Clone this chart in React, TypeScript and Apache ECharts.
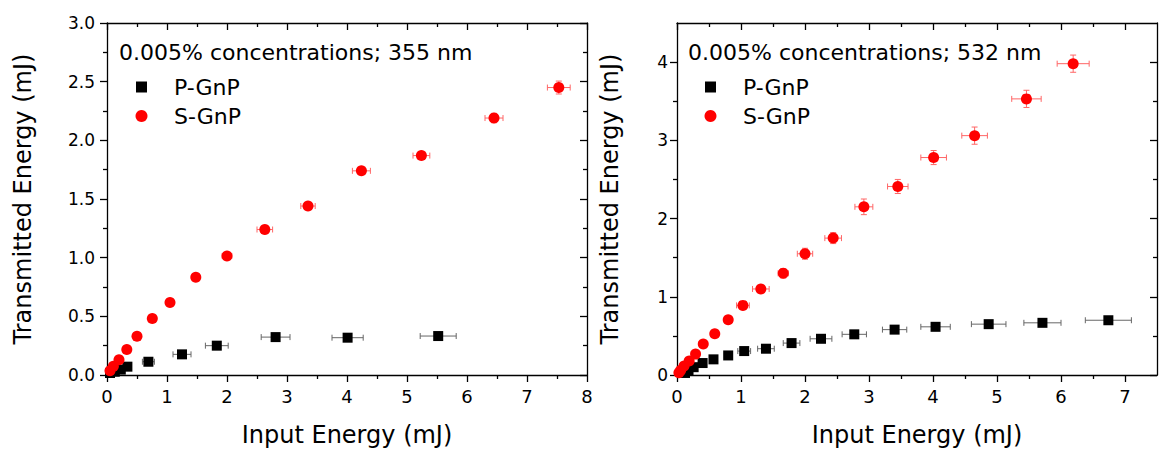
import React, { useEffect, useRef } from "react";
import * as echarts from "echarts";

// ---------- data ----------
const leftTitle = "0.005% concentrations; 355 nm";
const rightTitle = "0.005% concentrations; 532 nm";
const seriesNames = ["P-GnP", "S-GnP"];

// 355 nm, P-GnP
const l355PX = [0.05, 0.13, 0.23, 0.34, 0.69, 1.25, 1.83, 2.81, 4.01, 5.52];
const l355PY = [0.017, 0.028, 0.046, 0.071, 0.113, 0.176, 0.25, 0.323, 0.318, 0.332];
const l355PXE = [0.01, 0.02, 0.03, 0.04, 0.1, 0.15, 0.19, 0.24, 0.26, 0.3];
const l355PYE = [0.005, 0.005, 0.005, 0.005, 0.008, 0.01, 0.01, 0.012, 0.012, 0.012];
// 355 nm, S-GnP
const l355SX = [0.05, 0.106, 0.2, 0.33, 0.5, 0.755, 1.05, 1.48, 2.0, 2.63, 3.35, 4.24, 5.24, 6.45, 7.53];
const l355SY = [0.037, 0.074, 0.13, 0.218, 0.331, 0.482, 0.618, 0.834, 1.015, 1.24, 1.44, 1.74, 1.87, 2.19, 2.45];
const l355SXE = [0.01, 0.01, 0.02, 0.02, 0.03, 0.04, 0.05, 0.06, 0.08, 0.13, 0.12, 0.15, 0.14, 0.15, 0.19];
const l355SYE = [0.005, 0.005, 0.005, 0.008, 0.01, 0.01, 0.01, 0.012, 0.015, 0.035, 0.02, 0.02, 0.02, 0.04, 0.055];

// 532 nm, P-GnP
const r532PX = [0.125, 0.18, 0.26, 0.4, 0.57, 0.8, 1.05, 1.39, 1.79, 2.25, 2.77, 3.4, 4.04, 4.87, 5.71, 6.74];
const r532PY = [0.026, 0.058, 0.1, 0.153, 0.2, 0.25, 0.306, 0.336, 0.408, 0.463, 0.52, 0.58, 0.616, 0.65, 0.667, 0.7];
const r532PXE = [0.01, 0.02, 0.02, 0.03, 0.04, 0.06, 0.1, 0.13, 0.13, 0.17, 0.19, 0.19, 0.23, 0.27, 0.29, 0.36];
const r532PYE = [0.005, 0.005, 0.005, 0.008, 0.01, 0.01, 0.01, 0.012, 0.012, 0.015, 0.015, 0.015, 0.015, 0.015, 0.015, 0.015];
// 532 nm, S-GnP
const r532SX = [0.03, 0.058, 0.11, 0.19, 0.29, 0.41, 0.59, 0.8, 1.03, 1.31, 1.66, 2.0, 2.44, 2.92, 3.45, 4.01, 4.65, 5.46, 6.19];
const r532SY = [0.03, 0.06, 0.115, 0.178, 0.267, 0.395, 0.528, 0.706, 0.89, 1.1, 1.3, 1.55, 1.75, 2.15, 2.41, 2.78, 3.06, 3.53, 3.98];
const r532SXE = [0.01, 0.01, 0.02, 0.02, 0.03, 0.03, 0.05, 0.06, 0.1, 0.13, 0.08, 0.12, 0.13, 0.14, 0.16, 0.2, 0.2, 0.23, 0.25];
const r532SYE = [0.01, 0.01, 0.01, 0.02, 0.02, 0.02, 0.03, 0.03, 0.04, 0.04, 0.06, 0.07, 0.07, 0.1, 0.09, 0.09, 0.11, 0.11, 0.11];

// axis ticks
const leftXMajor = [0, 1, 2, 3, 4, 5, 6, 7, 8];
const leftXMinor = [0.5, 1.5, 2.5, 3.5, 4.5, 5.5, 6.5, 7.5];
const leftYMajor = [0, 0.5, 1.0, 1.5, 2.0, 2.5, 3.0];
const leftYMinor = [0.25, 0.75, 1.25, 1.75, 2.25, 2.75];
const rightXMajor = [0, 1, 2, 3, 4, 5, 6, 7];
const rightXMinor = [0.5, 1.5, 2.5, 3.5, 4.5, 5.5, 6.5];
const rightYMajor = [0, 1, 2, 3, 4];
const rightYMinor = [0.5, 1.5, 2.5, 3.5];
const leftXMax = 8;
const leftYMax = 3;
const rightXMax = 7.5;
const rightYMax = 4.5;

const xTitle = "Input Energy (mJ)";
const yTitle = "Transmitted Energy (mJ)";

// ---------- styling ----------
const FONT = "'DejaVu Sans', 'Liberation Sans', Arial, sans-serif";
const lineStyle = { color: "#000", width: 1.3 };

function makeXAxes(gridIndex: number, max: number, major: number[], minor: number[]) {
  const base = { type: "value", gridIndex, min: 0, max, splitLine: { show: false }, scale: false };
  return [
    {
      ...base,
      position: "bottom",
      axisLine: { show: true, onZero: false, lineStyle },
      axisTick: { show: true, inside: false, length: 7, customValues: major, lineStyle },
      axisLabel: {
        show: true,
        customValues: major,
        color: "#000",
        fontSize: 18,
        fontFamily: FONT,
        margin: 12,
        formatter: (v: number) => String(v),
      },
      name: xTitle,
      nameLocation: "middle",
      nameGap: 48,
      nameTextStyle: { color: "#000", fontSize: 24, fontFamily: FONT },
    },
    {
      ...base,
      position: "bottom",
      axisLine: { show: false, onZero: false },
      axisTick: { show: true, inside: false, length: 4, customValues: minor, lineStyle },
      axisLabel: { show: false },
    },
    {
      ...base,
      position: "top",
      axisLine: { show: true, onZero: false, lineStyle },
      axisTick: { show: true, inside: true, length: 7, customValues: major, lineStyle },
      axisLabel: { show: false },
    },
    {
      ...base,
      position: "top",
      axisLine: { show: false, onZero: false },
      axisTick: { show: true, inside: true, length: 4, customValues: minor, lineStyle },
      axisLabel: { show: false },
    },
  ];
}

function makeYAxes(
  gridIndex: number,
  max: number,
  major: number[],
  minor: number[],
  fmt: (v: number) => string,
  labelMargin: number,
  nameGap: number
) {
  const base = { type: "value", gridIndex, min: 0, max, splitLine: { show: false }, scale: false };
  return [
    {
      ...base,
      position: "left",
      axisLine: { show: true, onZero: false, lineStyle },
      axisTick: { show: true, inside: false, length: 7, customValues: major, lineStyle },
      axisLabel: {
        show: true,
        customValues: major,
        color: "#000",
        fontSize: 17,
        fontFamily: FONT,
        margin: labelMargin,
        formatter: fmt,
      },
      name: yTitle,
      nameLocation: "middle",
      nameGap,
      nameRotate: 90,
      nameTextStyle: { color: "#000", fontSize: 24, fontFamily: FONT },
    },
    {
      ...base,
      position: "left",
      axisLine: { show: false, onZero: false },
      axisTick: { show: true, inside: false, length: 4, customValues: minor, lineStyle },
      axisLabel: { show: false },
    },
    {
      ...base,
      position: "right",
      axisLine: { show: true, onZero: false, lineStyle },
      axisTick: { show: true, inside: true, length: 7, customValues: major, lineStyle },
      axisLabel: { show: false },
    },
    {
      ...base,
      position: "right",
      axisLine: { show: false, onZero: false },
      axisTick: { show: true, inside: true, length: 4, customValues: minor, lineStyle },
      axisLabel: { show: false },
    },
  ];
}

function errorSeries(
  xs: number[],
  ys: number[],
  xe: number[],
  ye: number[],
  color: string,
  xi: number,
  yi: number
) {
  return {
    type: "custom",
    xAxisIndex: xi,
    yAxisIndex: yi,
    silent: true,
    z: 1,
    encode: { x: 0, y: 1 },
    data: xs.map((x, i) => [x, ys[i], xe[i], ye[i]]),
    renderItem: (_params: any, api: any) => {
      const x = api.value(0);
      const y = api.value(1);
      const dx = api.value(2);
      const dy = api.value(3);
      const l = api.coord([x - dx, y]);
      const r = api.coord([x + dx, y]);
      const t = api.coord([x, y + dy]);
      const b = api.coord([x, y - dy]);
      const c = 3;
      const st = { stroke: color, lineWidth: 1 };
      const mk = (x1: number, y1: number, x2: number, y2: number) => ({
        type: "line",
        shape: { x1, y1, x2, y2 },
        style: st,
      });
      return {
        type: "group",
        children: [
          mk(l[0], l[1], r[0], r[1]),
          mk(l[0], l[1] - c, l[0], l[1] + c),
          mk(r[0], r[1] - c, r[0], r[1] + c),
          mk(t[0], t[1], b[0], b[1]),
          mk(t[0] - c, t[1], t[0] + c, t[1]),
          mk(b[0] - c, b[1], b[0] + c, b[1]),
        ],
      };
    },
  };
}

function scatter(name: string, xs: number[], ys: number[], symbol: string, size: number, color: string, xi: number, yi: number) {
  return {
    type: "scatter",
    name,
    xAxisIndex: xi,
    yAxisIndex: yi,
    symbol,
    symbolSize: size,
    z: 3,
    itemStyle: { color, opacity: 1 },
    data: xs.map((x, i) => [x, ys[i]]),
  };
}

function legendGraphics(x0: number, title: string) {
  return [
    {
      type: "text",
      x: x0,
      y: 52,
      style: { text: title, fontSize: 22, fontFamily: FONT, fill: "#000", verticalAlign: "middle" },
    },
    {
      type: "rect",
      shape: { x: x0 + 17, y: 81.5, width: 11, height: 11 },
      style: { fill: "#000" },
    },
    {
      type: "text",
      x: x0 + 55,
      y: 87.5,
      style: { text: seriesNames[0], fontSize: 22, fontFamily: FONT, fill: "#000", verticalAlign: "middle" },
    },
    {
      type: "circle",
      shape: { cx: x0 + 22.5, cy: 116, r: 6 },
      style: { fill: "#ff0000" },
    },
    {
      type: "text",
      x: x0 + 55,
      y: 116.5,
      style: { text: seriesNames[1], fontSize: 22, fontFamily: FONT, fill: "#000", verticalAlign: "middle" },
    },
  ];
}

export default function App() {
  const ref = useRef<HTMLDivElement>(null);
  useEffect(() => {
    if (!ref.current) return;
    const chart = echarts.init(ref.current, undefined, { renderer: "svg" });
    const option: any = {
      animation: false,
      backgroundColor: "#fff",
      grid: [
        { left: 107, right: 584, top: 23, bottom: 76 },
        { left: 677, right: 14, top: 23, bottom: 76 },
      ],
      xAxis: [
        ...makeXAxes(0, leftXMax, leftXMajor, leftXMinor),
        ...makeXAxes(1, rightXMax, rightXMajor, rightXMinor),
      ],
      yAxis: [
        ...makeYAxes(0, leftYMax, leftYMajor, leftYMinor, (v: number) => v.toFixed(1), 12, 72),
        ...makeYAxes(1, rightYMax, rightYMajor, rightYMinor, (v: number) => String(v), 9, 55),
      ],
      series: [
        errorSeries(l355PX, l355PY, l355PXE, l355PYE, "#666666", 0, 0),
        errorSeries(l355SX, l355SY, l355SXE, l355SYE, "#ff6666", 0, 0),
        scatter(seriesNames[0], l355PX, l355PY, "rect", 10, "#000000", 0, 0),
        scatter(seriesNames[1], l355SX, l355SY, "circle", 11, "#ff0000", 0, 0),
        errorSeries(r532PX, r532PY, r532PXE, r532PYE, "#666666", 4, 4),
        errorSeries(r532SX, r532SY, r532SXE, r532SYE, "#ff6666", 4, 4),
        scatter(seriesNames[0], r532PX, r532PY, "rect", 10, "#000000", 4, 4),
        scatter(seriesNames[1], r532SX, r532SY, "circle", 11, "#ff0000", 4, 4),
      ],
      graphic: [...legendGraphics(119, leftTitle), ...legendGraphics(688, rightTitle)],
    };
    chart.setOption(option);
    return () => chart.dispose();
  }, []);
  return (
    <div
      ref={ref}
      style={{ position: "fixed", left: 0, top: 0, width: 1171, height: 452, background: "#fff" }}
    />
  );
}
